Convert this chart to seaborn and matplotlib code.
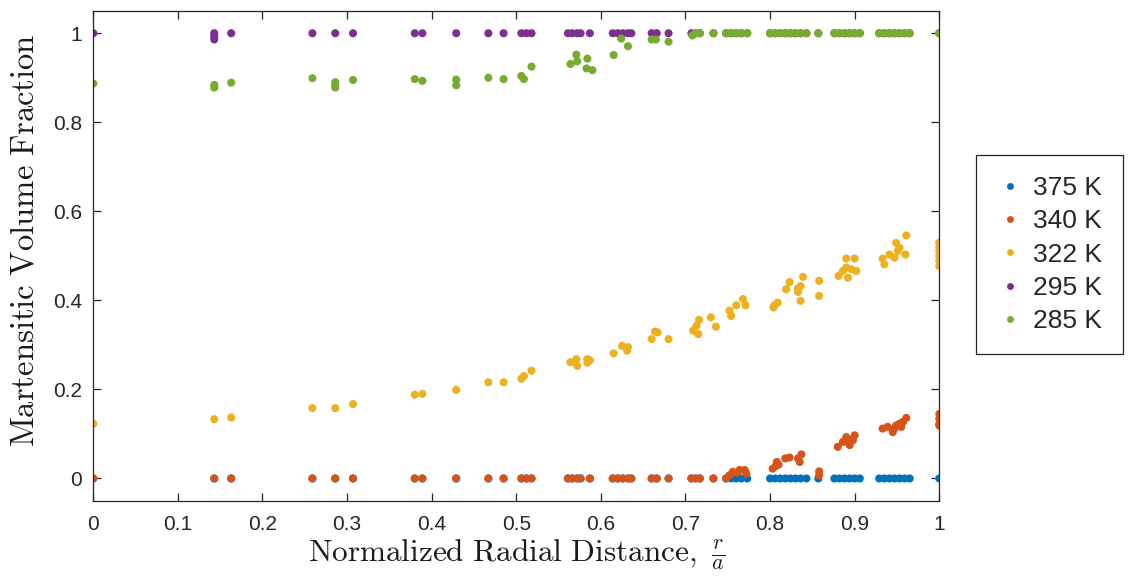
"""Martensitic volume fraction vs normalized radial distance, one series per temperature"""
import matplotlib
matplotlib.use("Agg")
import matplotlib.pyplot as plt
import pandas as pd
import seaborn as sns

SERIES = ["375 K", "340 K", "322 K", "295 K", "285 K"]
COLORS = ["#0072BD", "#D95319", "#EDB120", "#7E2F8E", "#77AC30"]

# radial sample sites (r/a) shared by the flat series
SITE_X = [0.0, 0.143, 0.163, 0.259, 0.286, 0.307, 0.380, 0.389, 0.429, 0.467,
          0.485, 0.506, 0.512, 0.518, 0.561, 0.566, 0.572, 0.576, 0.587, 0.614,
          0.620, 0.626, 0.632, 0.636, 0.660, 0.666, 0.680,
          0.707, 0.712, 0.717, 0.733, 0.748, 0.754, 0.760, 0.766, 0.773, 0.800,
          0.806, 0.812, 0.818, 0.824, 0.830, 0.836, 0.843, 0.857, 0.876, 0.882,
          0.888, 0.894, 0.900, 0.906, 0.929, 0.935, 0.941, 0.947, 0.953, 0.959,
          0.965, 1.0]

# 375 K
T375_X = SITE_X
T375_Y = [0, 0, 0, 0, 0, 0, 0, 0, 0, 0, 0, 0, 0, 0, 0, 0, 0, 0, 0, 0,
          0, 0, 0, 0, 0, 0, 0, 0, 0, 0, 0, 0, 0, 0, 0, 0, 0, 0, 0, 0,
          0, 0, 0, 0, 0, 0, 0, 0, 0, 0, 0, 0, 0, 0, 0, 0, 0, 0, 0]

# 340 K
T340_X = [0.0, 0.143, 0.163, 0.259, 0.286, 0.307, 0.380, 0.389, 0.429, 0.467,
          0.485, 0.506, 0.512, 0.518, 0.561, 0.566, 0.572, 0.576, 0.587, 0.614,
          0.620, 0.626, 0.632, 0.636, 0.660, 0.666, 0.680, 0.707, 0.712, 0.717,
          0.733, 0.748,
          0.752, 0.756, 0.761, 0.764, 0.770, 0.772,
          0.803, 0.807, 0.810, 0.808, 0.818, 0.823, 0.833, 0.835, 0.837,
          0.858, 0.858,
          0.880, 0.886, 0.890, 0.892, 0.894, 0.896, 0.898, 0.900,
          0.933, 0.939, 0.945, 0.947, 0.949, 0.953, 0.955, 0.957, 0.961,
          1.0, 1.0, 1.0, 1.0]
T340_Y = [0, 0, 0, 0, 0, 0, 0, 0, 0, 0, 0, 0, 0, 0, 0, 0, 0, 0, 0, 0,
          0, 0, 0, 0, 0, 0, 0, 0, 0, 0, 0, 0,
          0.007, 0.015, 0.013, 0.019, 0.019, 0.011,
          0.022, 0.028, 0.031, 0.037, 0.045, 0.047, 0.045, 0.037, 0.054,
          0.016, 0.007,
          0.071, 0.082, 0.093, 0.082, 0.075, 0.086, 0.086, 0.097,
          0.112, 0.116, 0.104, 0.112, 0.119, 0.123, 0.116, 0.127, 0.136,
          0.145, 0.134, 0.123, 0.119]

# 322 K
T322_X = [0.0, 0.143, 0.163, 0.259, 0.286, 0.307, 0.380, 0.389, 0.429, 0.467,
          0.485, 0.506, 0.509, 0.518,
          0.564, 0.571, 0.572, 0.584, 0.587, 0.584,
          0.615, 0.625, 0.632, 0.631,
          0.660, 0.664, 0.667, 0.680,
          0.709, 0.713, 0.716, 0.715, 0.730, 0.736,
          0.752, 0.754, 0.760, 0.768, 0.771,
          0.805, 0.809, 0.804,
          0.819, 0.823, 0.833, 0.836, 0.839, 0.836, 0.833,
          0.858, 0.858,
          0.881, 0.890, 0.892, 0.896, 0.900, 0.902, 0.890, 0.886,
          0.935, 0.933, 0.941, 0.949, 0.953, 0.947, 0.961, 0.960, 0.951,
          1.0, 1.0, 1.0, 1.0, 1.0, 1.0]
T322_Y = [0.123, 0.133, 0.137, 0.158, 0.158, 0.167, 0.188, 0.190, 0.199, 0.216,
          0.216, 0.224, 0.230, 0.242,
          0.261, 0.268, 0.253, 0.268, 0.265, 0.260,
          0.281, 0.298, 0.295, 0.287,
          0.313, 0.330, 0.328, 0.313,
          0.332, 0.343, 0.356, 0.324, 0.362, 0.341,
          0.377, 0.365, 0.389, 0.403, 0.389,
          0.389, 0.395, 0.384,
          0.425, 0.441, 0.419, 0.432, 0.453, 0.399, 0.427,
          0.444, 0.410,
          0.455, 0.494, 0.451, 0.470, 0.494, 0.466, 0.474, 0.466,
          0.481, 0.494, 0.503, 0.529, 0.518, 0.496, 0.546, 0.503, 0.511,
          0.530, 0.520, 0.510, 0.500, 0.490, 0.477]

# 295 K
T295_X = SITE_X + [0.143, 0.143]
T295_Y = [1, 1, 1, 1, 1, 1, 1, 1, 1, 1, 1, 1, 1, 1, 1, 1, 1, 1, 1, 1,
          1, 1, 1, 1, 1, 1, 1, 1, 1, 1, 1, 1, 1, 1, 1, 1, 1, 1, 1, 1,
          1, 1, 1, 1, 1, 1, 1, 1, 1, 1, 1, 1, 1, 1, 1, 1, 1, 1, 1,
          0.992, 0.986]

# 285 K
T285_X = [0.0, 0.143, 0.143, 0.163, 0.259, 0.286, 0.286, 0.286, 0.307,
          0.380, 0.389, 0.429, 0.429, 0.467, 0.485, 0.506, 0.509, 0.518,
          0.564, 0.571, 0.572, 0.584, 0.583, 0.590,
          0.615, 0.624, 0.632, 0.660, 0.665, 0.680, 0.708,
          0.712, 0.717, 0.733, 0.748, 0.754, 0.760, 0.766, 0.773, 0.800,
          0.806, 0.812, 0.818, 0.824, 0.830, 0.836, 0.843, 0.857, 0.876, 0.882,
          0.888, 0.894, 0.900, 0.906, 0.929, 0.935, 0.941, 0.947, 0.953, 0.959,
          0.965, 1.0]
T285_Y = [0.887, 0.884, 0.878, 0.889, 0.899, 0.890, 0.878, 0.884, 0.895,
          0.897, 0.893, 0.896, 0.883, 0.900, 0.897, 0.904, 0.897, 0.925,
          0.931, 0.952, 0.937, 0.943, 0.921, 0.917,
          0.951, 0.988, 0.971, 0.986, 0.986, 0.981, 0.995,
          1, 1, 1, 1, 1, 1, 1, 1, 1,
          1, 1, 1, 1, 1, 1, 1, 1, 1, 1,
          1, 1, 1, 1, 1, 1, 1, 1, 1, 1,
          1, 1]

frames = []
for name, xs, ys in zip(SERIES,
                        [T375_X, T340_X, T322_X, T295_X, T285_X],
                        [T375_Y, T340_Y, T322_Y, T295_Y, T285_Y]):
    frames.append(pd.DataFrame({"r": xs, "frac": ys, "temp": name}))
df = pd.concat(frames, ignore_index=True)

sns.set_style("ticks")
plt.rcParams["font.family"] = ["Liberation Sans", "DejaVu Sans"]
plt.rcParams["mathtext.fontset"] = "cm"

fig = plt.figure(figsize=(11.28, 5.78), dpi=100)
ax = fig.add_axes([0.0827, 0.1337, 0.75, 0.8473])

sns.scatterplot(
    data=df, x="r", y="frac",
    hue="temp", hue_order=SERIES, palette=COLORS,
    s=34, linewidth=0, ax=ax,
)

ax.set_xlim(0, 1)
ax.set_ylim(-0.05, 1.05)
ax.set_xticks([0, 0.1, 0.2, 0.3, 0.4, 0.5, 0.6, 0.7, 0.8, 0.9, 1])
ax.set_xticklabels(["0", "0.1", "0.2", "0.3", "0.4", "0.5", "0.6", "0.7",
                    "0.8", "0.9", "1"])
ax.set_yticks([0, 0.2, 0.4, 0.6, 0.8, 1])
ax.set_yticklabels(["0", "0.2", "0.4", "0.6", "0.8", "1"])
ax.tick_params(direction="in", top=True, right=True, length=6, width=0.9,
               labelsize=15, colors="#262626")
ax.tick_params(axis="x", pad=10)
ax.tick_params(axis="y", pad=8)
for sp in ax.spines.values():
    sp.set_visible(True)
    sp.set_color("#262626")
    sp.set_linewidth(0.9)

ax.set_xlabel(r"$\mathrm{Normalized\ Radial\ Distance,}\ \frac{r}{a}$",
              fontsize=22.5, labelpad=3, color="#1a1a1a")
ax.set_ylabel(r"$\mathrm{Martensitic\ Volume\ Fraction}$",
              fontsize=23.5, color="#1a1a1a")
ax.yaxis.set_label_coords(-0.062, 0.532)

handles, labels = ax.get_legend_handles_labels()
ax.legend(
    handles, labels,
    loc="upper left", bbox_to_anchor=(976 / 1128, 1 - 155 / 578),
    bbox_transform=fig.transFigure, borderaxespad=0,
    fontsize=19, frameon=True, fancybox=False, framealpha=1,
    edgecolor="#262626", borderpad=0.8, labelspacing=0.35,
    handlelength=1.0, handletextpad=0.35, markerscale=0.85,
)
ax.get_legend().get_frame().set_linewidth(0.9)

fig.savefig("out.png", dpi=100)
plt.close(fig)
